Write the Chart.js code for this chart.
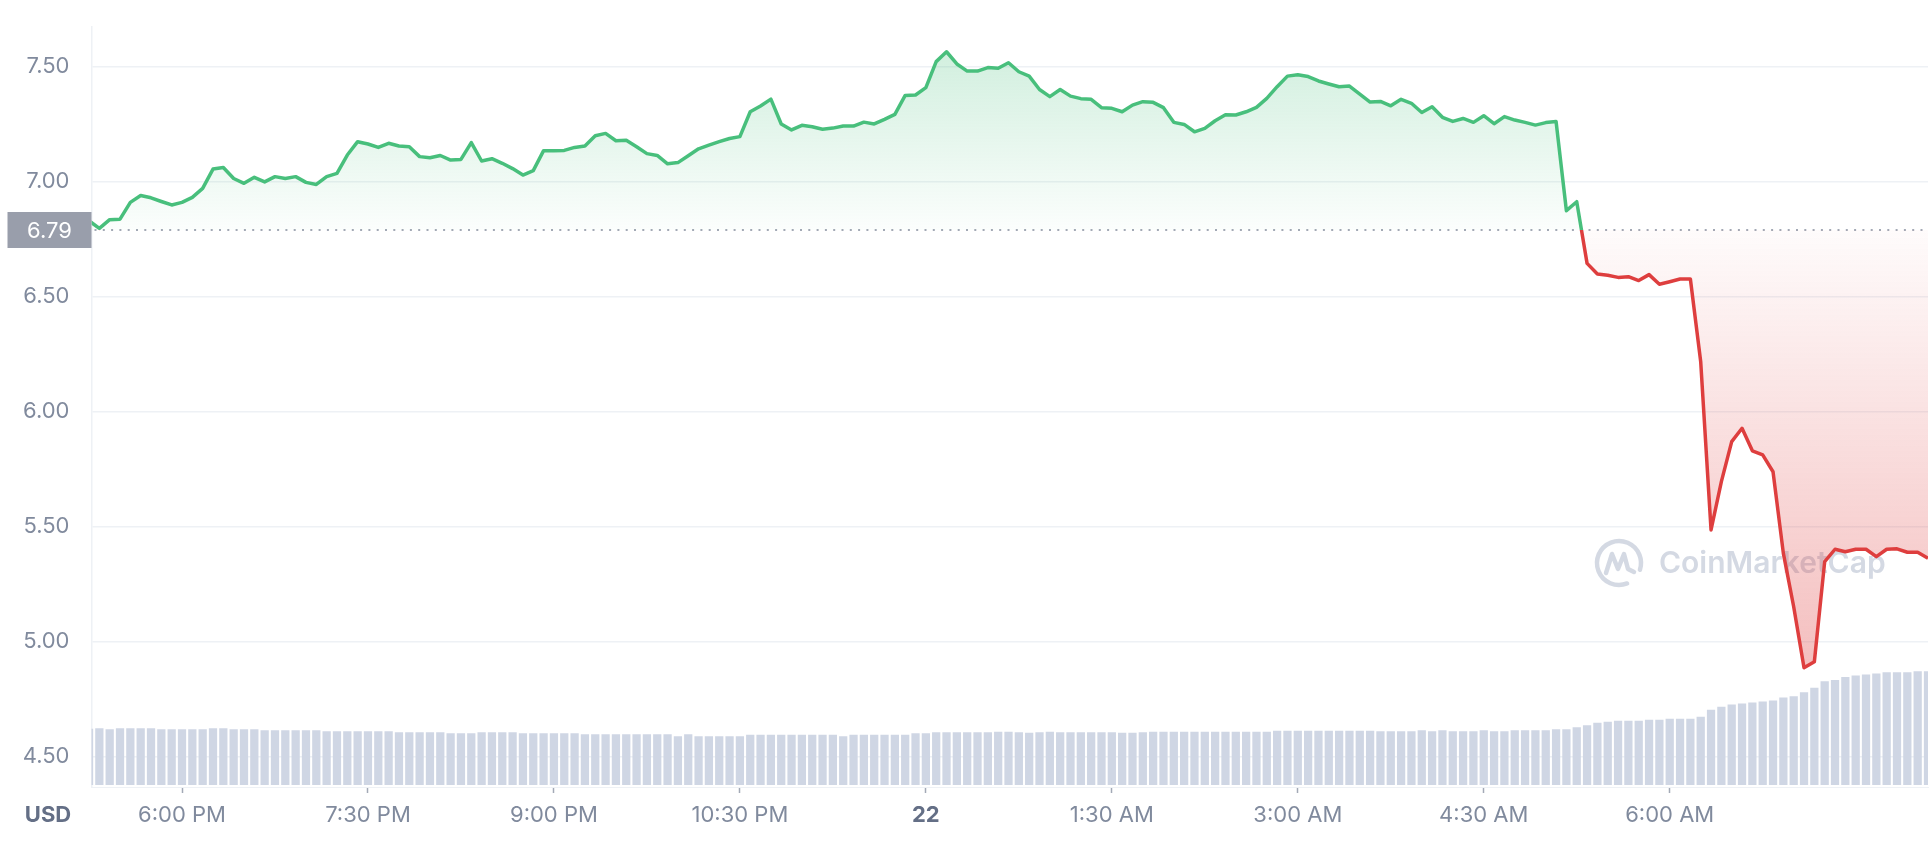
<!DOCTYPE html>
<html>
<head>
<meta charset="utf-8">
<title>Price chart</title>
<script src="https://cdn.jsdelivr.net/npm/chart.js@4.4.1/dist/chart.umd.min.js"></script>
<style>
    html, body { margin: 0; padding: 0; background: #ffffff; }
    #wrap { width: 1930px; height: 864px; }
</style>
</head>
<body>
<div id="wrap"><canvas id="priceChart" width="1930" height="864"></canvas></div>
<script>
// one sample every 5 minutes, first one at 17:15 (minutes relative to midnight of the 22nd)
const startMinute = -405;
const stepMinutes = 5;

// price in USD
const prices = [
    6.830, 6.797, 6.835, 6.837, 6.910, 6.940, 6.930, 6.914, 6.899, 6.910,
    6.932, 6.971, 7.055, 7.062, 7.014, 6.993, 7.019, 6.999, 7.022, 7.014,
    7.022, 6.997, 6.988, 7.022, 7.036, 7.116, 7.174, 7.164, 7.149, 7.167,
    7.155, 7.152, 7.109, 7.104, 7.114, 7.094, 7.097, 7.170, 7.090, 7.100,
    7.080, 7.057, 7.029, 7.048, 7.135, 7.135, 7.136, 7.149, 7.155, 7.200,
    7.210, 7.178, 7.180, 7.152, 7.122, 7.114, 7.078, 7.083, 7.113, 7.143,
    7.159, 7.174, 7.188, 7.196, 7.304, 7.329, 7.359, 7.251, 7.225, 7.245,
    7.239, 7.228, 7.233, 7.242, 7.242, 7.259, 7.251, 7.271, 7.293, 7.375,
    7.377, 7.409, 7.522, 7.565, 7.512, 7.481, 7.481, 7.496, 7.493, 7.517,
    7.478, 7.459, 7.401, 7.370, 7.401, 7.372, 7.361, 7.358, 7.322, 7.319,
    7.304, 7.333, 7.348, 7.345, 7.322, 7.258, 7.249, 7.217, 7.232, 7.265,
    7.291, 7.290, 7.304, 7.323, 7.362, 7.413, 7.459, 7.465, 7.457, 7.438,
    7.425, 7.413, 7.416, 7.381, 7.346, 7.349, 7.330, 7.358, 7.341, 7.301,
    7.326, 7.280, 7.262, 7.275, 7.258, 7.287, 7.252, 7.283, 7.268, 7.258,
    7.246, 7.257, 7.262, 6.874, 6.913, 6.645, 6.599, 6.593, 6.584, 6.587,
    6.570, 6.596, 6.554, 6.565, 6.577, 6.577, 6.217, 5.486, 5.696, 5.870,
    5.928, 5.830, 5.812, 5.739, 5.384, 5.152, 4.887, 4.913, 5.348, 5.402,
    5.391, 5.402, 5.402, 5.370, 5.402, 5.404, 5.389, 5.389, 5.363
];

// volume, millions USD (relative)
const volumes = [
    2.82, 2.85, 2.80, 2.85, 2.85, 2.85, 2.85, 2.80, 2.79, 2.79,
    2.79, 2.79, 2.85, 2.85, 2.79, 2.79, 2.79, 2.74, 2.74, 2.74,
    2.74, 2.74, 2.74, 2.69, 2.69, 2.69, 2.69, 2.69, 2.69, 2.69,
    2.64, 2.64, 2.64, 2.64, 2.64, 2.59, 2.59, 2.59, 2.64, 2.64,
    2.64, 2.64, 2.59, 2.59, 2.59, 2.59, 2.59, 2.59, 2.54, 2.54,
    2.54, 2.54, 2.54, 2.54, 2.54, 2.54, 2.54, 2.45, 2.54, 2.45,
    2.45, 2.45, 2.45, 2.45, 2.52, 2.52, 2.52, 2.52, 2.52, 2.52,
    2.52, 2.52, 2.52, 2.45, 2.52, 2.52, 2.52, 2.52, 2.52, 2.52,
    2.59, 2.59, 2.64, 2.64, 2.64, 2.64, 2.64, 2.64, 2.67, 2.67,
    2.64, 2.62, 2.64, 2.67, 2.64, 2.64, 2.64, 2.64, 2.64, 2.64,
    2.62, 2.62, 2.64, 2.67, 2.67, 2.67, 2.67, 2.67, 2.67, 2.67,
    2.67, 2.67, 2.67, 2.67, 2.67, 2.72, 2.72, 2.72, 2.72, 2.72,
    2.72, 2.72, 2.72, 2.72, 2.72, 2.70, 2.70, 2.70, 2.70, 2.75,
    2.70, 2.75, 2.70, 2.70, 2.70, 2.75, 2.70, 2.70, 2.75, 2.75,
    2.75, 2.75, 2.80, 2.80, 2.90, 3.00, 3.12, 3.17, 3.22, 3.22,
    3.22, 3.27, 3.27, 3.32, 3.32, 3.32, 3.42, 3.77, 3.92, 4.04,
    4.09, 4.14, 4.19, 4.24, 4.39, 4.45, 4.65, 4.87, 5.20, 5.27,
    5.42, 5.49, 5.54, 5.59, 5.65, 5.65, 5.65, 5.70, 5.70
];

const openPrice = 6.79;
const yTickValues = [4.5, 5.0, 5.5, 6.0, 6.5, 7.0, 7.5];
const xTickMinutes = [-360, -270, -180, -90, 0, 90, 180, 270, 360];
const xTickLabels = ['6:00 PM', '7:30 PM', '9:00 PM', '10:30 PM', '22', '1:30 AM', '3:00 AM', '4:30 AM', '6:00 AM'];

const green = 'rgb(72, 191, 124)';
const red = 'rgb(222, 62, 62)';
const greyText = '#808a9d';
const darkText = '#646f86';
const gridColor = '#eef1f5';

Chart.defaults.font.family = 'Inter, "Noto Sans", sans-serif';

const pricePoints = prices.map((p, i) => ({ x: startMinute + i * stepMinutes, y: p }));
const volumePoints = volumes.map((v, i) => ({ x: startMinute + i * stepMinutes, y: v }));

// vertical gradient split at the opening price: green above, red below
function splitGradient(context, topStops, bottomStops) {
    const chart = context.chart;
    const area = chart.chartArea;
    if (!area) return null;
    const yBase = chart.scales.y.getPixelForValue(openPrice);
    const stop = Math.min(1, Math.max(0, (yBase - area.top) / (area.bottom - area.top)));
    const g = chart.ctx.createLinearGradient(0, area.top, 0, area.bottom);
    g.addColorStop(0, topStops[0]);
    g.addColorStop(stop, topStops[1]);
    g.addColorStop(stop, bottomStops[0]);
    g.addColorStop(1, bottomStops[1]);
    return g;
}

function drawWatermark(ctx, area) {
    const cx = area.right - 309;
    const cy = area.top + 536;
    ctx.save();
    ctx.strokeStyle = '#d4d9e3';
    ctx.fillStyle = '#d4d9e3';
    ctx.lineWidth = 4.5;
    ctx.lineCap = 'round';
    ctx.lineJoin = 'round';
    ctx.beginPath();
    ctx.arc(cx, cy, 22, Math.PI * 0.38, Math.PI * 2.1);
    ctx.stroke();
    ctx.beginPath();
    ctx.moveTo(cx - 13, cy + 10);
    ctx.lineTo(cx - 7, cy - 9);
    ctx.lineTo(cx - 1, cy + 6);
    ctx.lineTo(cx + 5, cy - 9);
    ctx.lineTo(cx + 9, cy + 6);
    ctx.lineTo(cx + 15, cy + 9);
    ctx.stroke();
    ctx.font = '600 30px Inter';
    ctx.textBaseline = 'middle';
    ctx.textAlign = 'left';
    ctx.fillText('CoinMarketCap', cx + 40, cy + 1);
    ctx.restore();
}

const overlayPlugin = {
    id: 'overlay',
    beforeDatasetsDraw(chart) {
        const { ctx, chartArea: area, scales } = chart;
        drawWatermark(ctx, area);
        // dotted line at the opening price
        const yBase = scales.y.getPixelForValue(openPrice);
        ctx.save();
        ctx.strokeStyle = '#a3a9b5';
        ctx.lineWidth = 2;
        ctx.setLineDash([2, 6.3]);
        ctx.beginPath();
        ctx.moveTo(area.left + 3, yBase);
        ctx.lineTo(area.right, yBase);
        ctx.stroke();
        ctx.restore();
    },
    afterDraw(chart) {
        const { ctx, chartArea: area, scales } = chart;
        const yBase = scales.y.getPixelForValue(openPrice);
        ctx.save();
        // opening price tag on the y axis
        ctx.fillStyle = '#999eab';
        ctx.fillRect(7.5, yBase - 18, area.left - 7.5, 36);
        ctx.fillStyle = '#ffffff';
        ctx.font = '22px Inter';
        ctx.textAlign = 'center';
        ctx.textBaseline = 'middle';
        ctx.fillText(openPrice.toFixed(2), (7.5 + area.left) / 2, yBase + 1);
        // currency label under the y axis
        ctx.fillStyle = darkText;
        ctx.font = '700 22px Inter';
        ctx.fillText('USD', 48, area.bottom + 28);
        ctx.restore();
    }
};

const ctx = document.getElementById('priceChart').getContext('2d');
const priceChart = new Chart(ctx, {
    type: 'line',
    data: {
        datasets: [
            {
                type: 'line',
                label: 'Price',
                data: pricePoints,
                yAxisID: 'y',
                order: 0,
                borderWidth: 3.5,
                pointRadius: 0,
                tension: 0,
                borderJoinStyle: 'round',
                borderColor: (c) => splitGradient(c, [green, green], [red, red]) || green,
                backgroundColor: (c) => splitGradient(c,
                    ['rgba(72, 191, 124, 0.28)', 'rgba(72, 191, 124, 0.02)'],
                    ['rgba(222, 62, 62, 0.02)', 'rgba(222, 62, 62, 0.42)']) || 'rgba(0,0,0,0)',
                fill: { value: openPrice }
            },
            {
                type: 'bar',
                label: 'Volume',
                data: volumePoints,
                yAxisID: 'y1',
                order: 1,
                backgroundColor: '#cfd6e4',
                borderWidth: 0,
                barPercentage: 0.8,
                categoryPercentage: 1.0
            }
        ]
    },
    options: {
        responsive: false,
        devicePixelRatio: 1,
        animation: false,
        events: [],
        layout: { padding: { top: 27, right: 2, bottom: 0, left: 0 } },
        plugins: {
            legend: { display: false },
            tooltip: { enabled: false }
        },
        scales: {
            x: {
                type: 'linear',
                min: -403.8,
                max: 485,
                offset: false,
                afterBuildTicks: (scale) => {
                    scale.ticks = xTickMinutes.map(v => ({ value: v }));
                },
                afterFit: (scale) => { scale.height = 77; },
                grid: {
                    display: true,
                    drawOnChartArea: false,
                    drawTicks: true,
                    tickLength: 6,
                    tickWidth: 1.5,
                    tickColor: '#a3a9b6',
                    offset: false
                },
                border: { display: true, color: gridColor, width: 1 },
                ticks: {
                    autoSkip: false,
                    maxRotation: 0,
                    padding: 9,
                    color: (c) => (c.tick && c.tick.value === 0 ? darkText : greyText),
                    font: (c) => ({ size: 22, weight: c.tick && c.tick.value === 0 ? '700' : '400' }),
                    callback: (value) => {
                        const k = xTickMinutes.indexOf(value);
                        return k >= 0 ? xTickLabels[k] : '';
                    }
                }
            },
            y: {
                position: 'left',
                min: 4.3683,
                max: 7.6726,
                afterBuildTicks: (scale) => {
                    scale.ticks = yTickValues.map(v => ({ value: v }));
                },
                afterFit: (scale) => { scale.width = 91.5; },
                // invisible tick marks keep the labels away from the axis
                grid: { color: gridColor, lineWidth: 1.5, drawTicks: true, tickLength: 22, tickColor: 'rgba(0,0,0,0)' },
                border: { display: true, color: gridColor, width: 1.5 },
                ticks: {
                    padding: 0,
                    color: greyText,
                    font: { size: 22 },
                    callback: (value) => Number(value).toFixed(2)
                }
            },
            y1: {
                display: false,
                min: -0.1,
                max: 38
            }
        }
    },
    plugins: [overlayPlugin]
});
</script>
</body>
</html>
